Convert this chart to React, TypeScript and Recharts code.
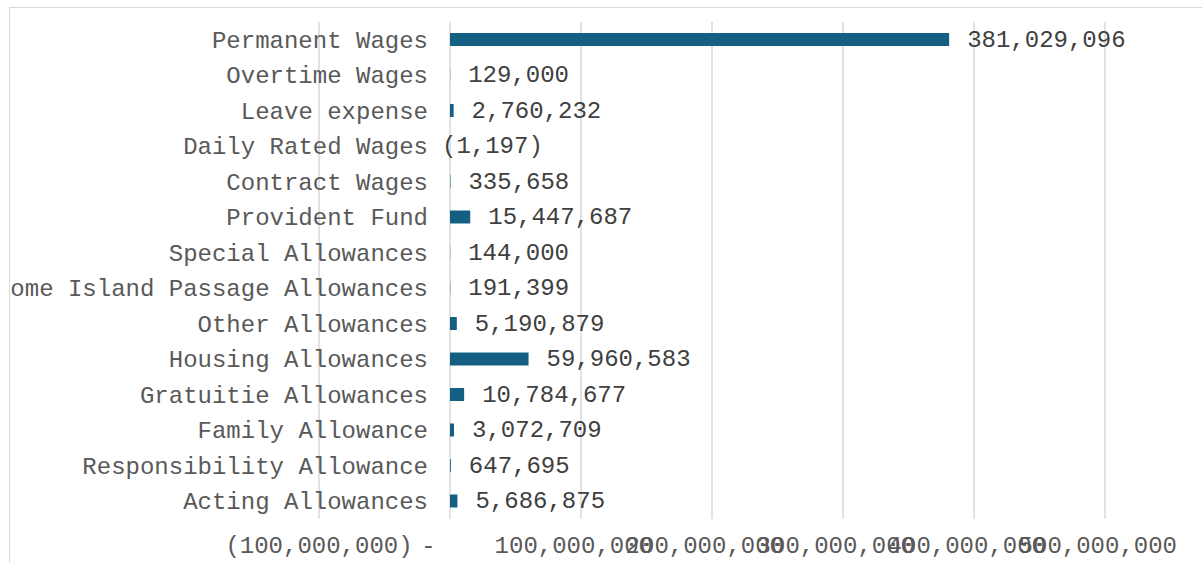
import { BarChart, Bar, XAxis, YAxis, CartesianGrid, LabelList } from "recharts";

const categories = [
  "Permanent Wages",
  "Overtime Wages",
  "Leave expense",
  "Daily Rated Wages",
  "Contract Wages",
  "Provident Fund",
  "Special Allowances",
  "Home Island Passage Allowances",
  "Other Allowances",
  "Housing Allowances",
  "Gratuitie Allowances",
  "Family Allowance",
  "Responsibility Allowance",
  "Acting Allowances",
];

const amounts = [
  381029096, 129000, 2760232, -1197, 335658, 15447687, 144000, 191399,
  5190879, 59960583, 10784677, 3072709, 647695, 5686875,
];

const xTicks = [-100000000, 0, 100000000, 200000000, 300000000, 400000000, 500000000];

const data = categories.map((name, i) => ({ name, value: amounts[i] }));

const FONT = "'Courier New', 'Liberation Mono', monospace";
const W = 1202;
const H = 563;
const M = { top: 22, right: 97, bottom: 0, left: 0 };
const Y_W = 319;
const X_MIN = -100000000;
const X_MAX = 500000000;
const plotW = W - Y_W - M.right;
const zeroX = Y_W + ((0 - X_MIN) / (X_MAX - X_MIN)) * plotW;

const fmt = (v: number) => {
  if (v === 0) return "-   ";
  if (v < 0) return "(" + Math.abs(v).toLocaleString("en-US") + ")";
  return Math.abs(v).toLocaleString("en-US") + " ";
};

const XTick = (props: any) => {
  const { x, y, payload } = props;
  return (
    <text
      x={x}
      y={y}
      dy={26}
      textAnchor="middle"
      fontFamily={FONT}
      fontSize={24}
      fill="#595959"
      style={{ whiteSpace: "pre" }}
    >
      {fmt(payload.value)}
    </text>
  );
};

const YTick = (props: any) => {
  const { y, payload } = props;
  return (
    <text
      x={zeroX - 22}
      y={y}
      dy={8}
      textAnchor="end"
      fontFamily={FONT}
      fontSize={24}
      fill="#595959"
    >
      {payload.value}
    </text>
  );
};

const ValueLabel = (props: any) => {
  const { x, y, width, height, value } = props;
  const end = value >= 0 ? x + width : Math.min(x, x + width);
  const tx = value >= 0 ? end + 18 : end - 8;
  return (
    <text
      x={tx}
      y={y + height / 2}
      dy={7}
      textAnchor="start"
      fontFamily={FONT}
      fontSize={24}
      fill="#404040"
    >
      {value < 0 ? "(" + Math.abs(value).toLocaleString("en-US") + ")" : value.toLocaleString("en-US")}
    </text>
  );
};

export default function App() {
  return (
    <div style={{ position: "fixed", left: 0, top: 0, width: W, height: H, overflow: "hidden", background: "#fff" }}>
      <div
        style={{
          position: "absolute",
          left: 9,
          top: 7,
          width: 1300,
          height: 700,
          border: "1px solid #d9d9d9",
          overflow: "hidden",
        }}
      >
        <div style={{ position: "absolute", left: -10, top: -8 }}>
          <BarChart width={W} height={H} data={data} layout="vertical" margin={M}>
            <CartesianGrid horizontal={false} stroke="#d9d9d9" strokeWidth={1.5} />
            <XAxis
              type="number"
              domain={[X_MIN, X_MAX]}
              ticks={xTicks}
              height={44}
              axisLine={false}
              tickLine={false}
              tick={<XTick />}
              interval={0}
            />
            <YAxis
              type="category"
              dataKey="name"
              width={Y_W}
              axisLine={false}
              tickLine={false}
              tick={<YTick />}
              interval={0}
            />
            <Bar dataKey="value" fill="#156082" barSize={13} isAnimationActive={false}>
              <LabelList dataKey="value" content={<ValueLabel />} />
            </Bar>
          </BarChart>
        </div>
      </div>
    </div>
  );
}
